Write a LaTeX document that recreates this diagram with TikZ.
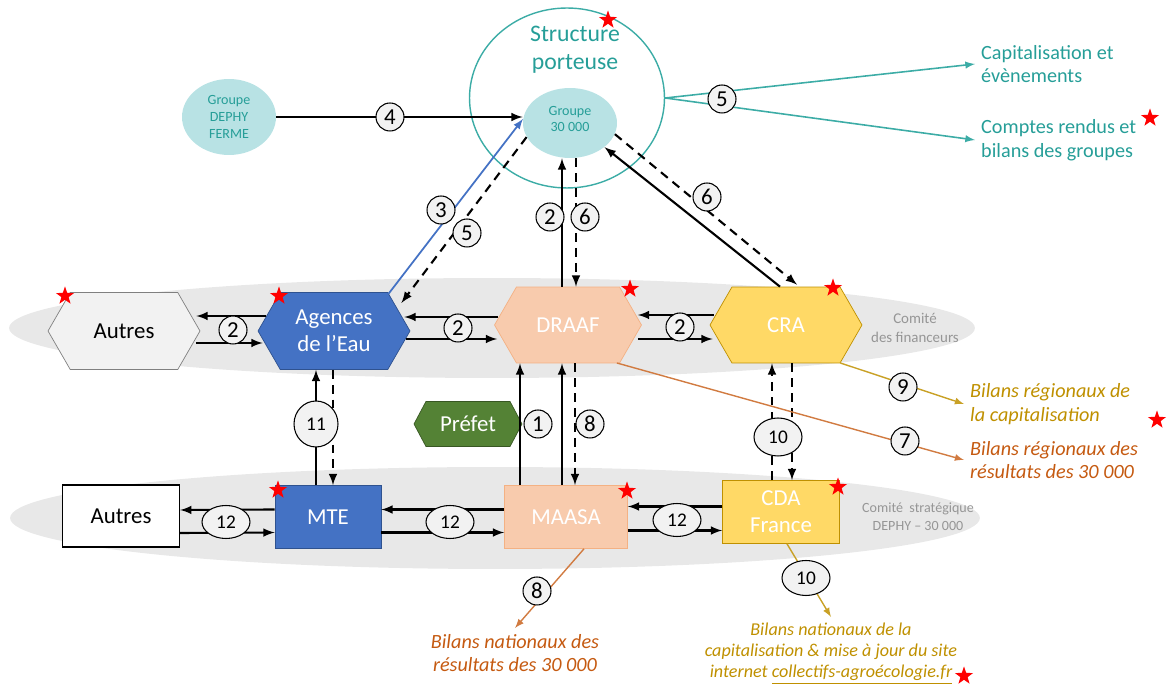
\documentclass[tikz,border=0pt]{standalone}
\usepackage{fontspec}
\setmainfont{Carlito}
\usepackage{tikz}
\usetikzlibrary{calc,shapes.geometric,shapes.symbols}
\tikzset{>=latex}

\definecolor{tealtxt}{RGB}{38,158,152}
\definecolor{tealfill}{RGB}{184,226,228}
\definecolor{tealline}{RGB}{60,172,166}
\definecolor{bandgray}{RGB}{232,232,232}
\definecolor{hexgray}{RGB}{242,242,242}
\definecolor{agblue}{RGB}{68,114,196}
\definecolor{agblueline}{RGB}{47,82,143}
\definecolor{peach}{RGB}{248,203,173}
\definecolor{peachline}{RGB}{244,177,131}
\definecolor{yel}{RGB}{255,217,102}
\definecolor{yelline}{RGB}{191,144,0}
\definecolor{prefgreen}{RGB}{84,130,53}
\definecolor{prefline}{RGB}{56,87,35}
\definecolor{outorange}{RGB}{197,90,17}
\definecolor{outgold}{RGB}{191,144,0}
\definecolor{comgray}{RGB}{150,150,150}
\definecolor{numgray}{RGB}{242,242,242}

\tikzset{
  band/.style={ellipse, fill=bandgray, inner sep=0pt},
  hexa/.style={signal, signal to=west and east, signal pointer angle=120, inner sep=0pt, align=center, font=\fontsize{13}{15.5}\selectfont},
  sbox/.style={rectangle, inner sep=0pt, align=center, font=\fontsize{13}{15.5}\selectfont},
  grp/.style={ellipse, fill=tealfill, inner sep=0pt, align=center, text=tealtxt, font=\fontsize{8}{9.5}\selectfont},
  num/.style={circle, draw, line width=0.6pt, fill=numgray, inner sep=0pt, minimum size=0.56cm, font=\fontsize{13}{13}\selectfont},
  numell/.style={ellipse, draw, line width=0.6pt, fill=numgray, inner sep=0pt, minimum width=0.96cm, minimum height=0.66cm, font=\fontsize{11}{11}\selectfont},
  redstar/.style={star, star points=5, star point ratio=2.5, fill=red, inner sep=0pt, minimum size=0.38cm},
  arr/.style={->, line width=1.2pt},
  darr/.style={->, line width=1.2pt, dash pattern=on 5pt off 3.5pt},
  tarr/.style={->, line width=0.9pt, draw=tealline},
  oarr/.style={->, line width=0.8pt, draw=outorange!80},
  garr/.style={->, line width=0.8pt, draw=outgold!85},
  sidetxt/.style={align=left, text=tealtxt, font=\fontsize{11.5}{13.5}\selectfont},
  outtxt/.style={align=left, font=\fontsize{11.5}{13.5}\selectfont\itshape},
  comtxt/.style={align=center, text=comgray, font=\fontsize{8.5}{10.5}\selectfont},
}

\begin{document}
\begin{tikzpicture}[x=0.02cm, y=-0.02cm]
  \useasboundingbox (0,0) rectangle (1171,688);
  \node[band, minimum width=19.32cm, minimum height=2cm] (cfin) at (492,328) {};
  \node[band, minimum width=19.4cm, minimum height=2.04cm] (cstrat) at (495,518) {};

  \node[ellipse, draw=tealline, line width=0.8pt, minimum width=3.9cm, minimum height=3.6cm] (sp) at (567,98) {};
  \node[text=tealtxt, align=center, font=\fontsize{13.5}{16}\selectfont] (sptxt) at (575,50) {Structure\\porteuse};
  \node[grp, minimum width=1.88cm, minimum height=1.4cm] (g30) at (570,123) {Groupe\\30~000\\[-5pt]};
  \node[grp, minimum width=1.88cm, minimum height=1.52cm] (dephy) at (229,117) {Groupe\\DEPHY\\FERME};

  \node[hexa, fill=hexgray, draw=gray, minimum width=3.04cm, minimum height=1.54cm] (autres) at (124,331) {Autres};
  \node[hexa, fill=agblue, draw=agblueline, text=white, minimum width=3.04cm, minimum height=1.54cm] (agences) at (334,331) {Agences\\de l’Eau};
  \node[hexa, fill=peach, draw=peachline, text=white, minimum width=2.94cm, minimum height=1.52cm] (draaf) at (568,325) {DRAAF};
  \node[hexa, fill=yel, draw=yelline, text=white, minimum width=3.04cm, minimum height=1.52cm] (cra) at (786,325) {CRA};
  \node[hexa, fill=prefgreen, draw=prefline, text=white, signal pointer angle=124, minimum width=2.16cm, minimum height=0.9cm] (prefet) at (468,424) {Préfet};

  \node[sbox, fill=white, draw=black, line width=0.8pt, minimum width=2.34cm, minimum height=1.24cm] (autres2) at (121,516) {Autres};
  \node[sbox, fill=agblue, draw=agblueline, text=white, minimum width=2.12cm, minimum height=1.26cm] (mte) at (328,517) {MTE};
  \node[sbox, fill=peach, draw=peachline, text=white, minimum width=2.46cm, minimum height=1.26cm] (maasa) at (566,517) {MAASA};
  \node[sbox, fill=yel, draw=yelline, text=white, minimum width=2.34cm, minimum height=1.26cm] (cda) at (781,512) {CDA\\France};

  \node[comtxt] (cfintxt) at (915,328) {Comité\\des financeurs};
  \node[comtxt, font=\fontsize{8}{10}\selectfont] (cstrattxt) at (918,517) {Comité\ \ stratégique\\DEPHY – 30~000};

  \node[sidetxt, anchor=west] (capit) at (975,64) {Capitalisation et\\évènements};
  \node[sidetxt, anchor=west] (compt) at (975,140) {Comptes rendus et\\bilans des groupes};
  \node[outtxt, anchor=west, text=outgold] (regcap) at (964,404) {Bilans régionaux de\\la capitalisation};
  \node[outtxt, anchor=west, text=outorange] (regres) at (964,460) {Bilans régionaux des\\résultats des 30~000};
  \node[outtxt, align=center, anchor=north, text=outorange] (natres) at (515,628) {Bilans nationaux des\\résultats des 30~000};
  \node[outtxt, align=center, anchor=north, text=outgold, font=\fontsize{10.3}{12}\selectfont\itshape] (natcap) at (831,617) {Bilans nationaux de la\\capitalisation \& mise à jour du site\\internet \underline{collectifs-agroécologie.fr}};

  \draw[tarr] (sp.east) -- (capit.west);
  \draw[tarr] (sp.east) -- (compt.west);

  \draw[arr] (dephy.east) -- (dephy.east -| g30.west);
  \draw[arr, draw=agblue, line width=1pt] ($(agences.east)+(-22,-37)$) -- (g30.175);
  \draw[darr] (g30.-162) -- ($(agences.east)+(-9,-28)$);
  \coordinate (d1) at ($(draaf.north)+(-6,0)$);
  \coordinate (d2) at ($(draaf.north)+(8,0)$);
  \draw[arr] (d1) -- (d1 |- g30.south);
  \draw[darr] (d2 |- g30.south) -- (d2);
  \draw[arr] ($(cra.north)+(-6,0)$) -- (g30.-35);
  \draw[darr] (g30.-14) -- ($(cra.north)+(11,-2)$);

  \draw[arr] ($(agences.west)+(8,-15)$) -- ($(autres.east)+(-4,-15)$);
  \draw[arr] ($(autres.east)+(-4,12)$) -- ($(agences.west)+(5,12)$);
  \draw[arr] ($(draaf.west)+(4,-8)$) -- ($(agences.east)+(-6,-14)$);
  \draw[arr] ($(agences.east)+(-4,8)$) -- ($(draaf.west)+(3,14)$);
  \draw[arr] ($(cra.west)+(4,-10)$) -- ($(draaf.east)+(-4,-10)$);
  \draw[arr] ($(draaf.east)+(-4,14)$) -- ($(cra.west)+(3,14)$);

  \draw[arr] ($(mte.west)+(0,-7.5)$) -- ($(autres2.east)+(0,-6)$);
  \draw[arr] ($(autres2.east)+(0,17)$) -- ($(mte.west)+(0,15.5)$);
  \draw[arr] ($(maasa.west)+(0,-7.5)$) -- ($(mte.east)+(0,-7.5)$);
  \draw[arr] ($(mte.east)+(0,15.5)$) -- ($(maasa.west)+(0,15.5)$);
  \draw[arr] ($(cda.west)+(0,-5.5)$) -- ($(maasa.east)+(0,-10.5)$);
  \draw[arr] ($(maasa.east)+(0,13.5)$) -- ($(cda.west)+(0,18.5)$);

  \coordinate (v1) at ($(mte.north)+(-12,0)$);
  \coordinate (v2) at ($(mte.north)+(5,0)$);
  \draw[arr] (v1) -- (v1 |- agences.south);
  \draw[darr] (v2 |- agences.south) -- (v2);
  \coordinate (v3) at ($(maasa.north)+(-46,0)$);
  \coordinate (v4) at ($(maasa.north)+(-4,0)$);
  \coordinate (v5) at ($(maasa.north)+(9,0)$);
  \draw[arr] (v3) -- (v3 |- draaf.south);
  \draw[arr] (v4) -- (v4 |- draaf.south);
  \draw[darr] (v5 |- draaf.south) -- (v5);
  \coordinate (v6) at ($(cda.north)+(-9,0)$);
  \coordinate (v7) at ($(cda.north)+(11,0)$);
  \draw[darr] (v6) -- (v6 |- cra.south);
  \draw[darr] (v7 |- cra.south) -- (v7);

  \draw[oarr] ($(draaf.east)+(-25,38)$) -- (regres.west);
  \draw[garr] ($(cra.east)+(-22,38)$) -- (regcap.west);
  \draw[oarr] ($(maasa.south)+(18,0)$) -- (natres.north);
  \draw[garr] ($(cda.south)+(6,0)$) -- (natcap.north);

  \node[num] (n4) at (390,117) {4};
  \node[num] (n5a) at (722,99) {5};
  \node[num] (n3) at (441,210) {3};
  \node[num] (n5b) at (467,233) {5};
  \node[num] (n2a) at (550,217) {2};
  \node[num] (n6a) at (585,217) {6};
  \node[num] (n6b) at (707,197) {6};
  \node[num] (n2b) at (233,330) {2};
  \node[num] (n2c) at (458,328) {2};
  \node[num] (n2d) at (680,327) {2};
  \node[num] (n1) at (538,424) {1};
  \node[num] (n8a) at (590,424) {8};
  \node[num] (n9) at (903,387) {9};
  \node[num] (n7) at (905,441) {7};
  \node[num] (n8b) at (537,591) {8};
  \node[numell, minimum width=0.88cm, minimum height=0.92cm] (e11) at (316,424) {11};
  \node[numell, minimum height=0.76cm] (e10a) at (778,437) {10};
  \node[numell, minimum width=0.96cm, minimum height=0.7cm] (e10b) at (806,578) {10};
  \node[numell] (e12a) at (226,522) {12};
  \node[numell] (e12b) at (450,522) {12};
  \node[numell] (e12c) at (677,520) {12};

  \foreach \x/\y [count=\i] in {608/20, 1150/118, 65/296, 279/296, 630/289, 833/288, 1157/420, 278/490, 627/491, 838/487, 964/676}
    \node[redstar] (star\i) at (\x,\y) {};
\end{tikzpicture}
\end{document}
